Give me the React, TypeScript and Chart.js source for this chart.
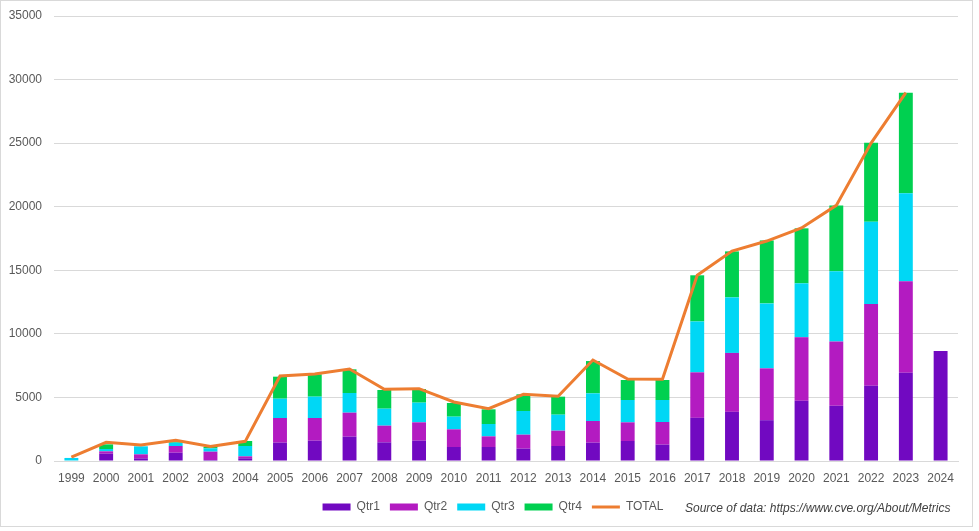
import React, { useEffect, useRef } from "react";
import { Chart, registerables } from "chart.js";

Chart.register(...registerables);

const years = [
  "1999", "2000", "2001", "2002", "2003", "2004", "2005", "2006", "2007",
  "2008", "2009", "2010", "2011", "2012", "2013", "2014", "2015", "2016",
  "2017", "2018", "2019", "2020", "2021", "2022", "2023", "2024",
];

const qtr1 = [0, 577, 210, 655, 80, 210, 1442, 1600, 1914, 1468, 1600, 1101, 1101, 970, 1180, 1442, 1573, 1285, 3395, 3868, 3210, 4737, 4342, 5921, 6947, 8658];
const qtr2 = [0, 183, 315, 525, 655, 157, 1940, 1783, 1888, 1311, 1442, 1390, 839, 1101, 1206, 1704, 1468, 1783, 3579, 4632, 4079, 5000, 5053, 6421, 7184, null];
const qtr3 = [240, 183, 630, 262, 262, 813, 1520, 1678, 1547, 1337, 1547, 996, 970, 1862, 1258, 2176, 1757, 1730, 4000, 4368, 5105, 4237, 5526, 6474, 6921, null];
const qtr4 = [0, 367, 0, 55, 105, 393, 1730, 1757, 1862, 1468, 1075, 1075, 1154, 1311, 1416, 2540, 1573, 1573, 3632, 3618, 4955, 4326, 5184, 6210, 7921, null];
const total = [300, 1470, 1260, 1625, 1150, 1547, 6685, 6845, 7237, 5638, 5690, 4641, 4115, 5244, 5087, 7944, 6450, 6425, 14605, 16517, 17300, 18330, 20105, 25000, 28974, null];

const seriesNames = ["Qtr1", "Qtr2", "Qtr3", "Qtr4", "TOTAL"];
const seriesColors = ["#7109C1", "#B31BC1", "#00D7F5", "#00D050", "#ED7D31"];
const sourceText = "Source of data: https://www.cve.org/About/Metrics";

const legendShift = {
  id: "legendShift",
  afterLayout(chart: any) {
    if (chart.legend) {
      chart.legend.left += 10;
      chart.legend.right += 10;
    }
  },
};

export default function App() {
  const ref = useRef<HTMLCanvasElement>(null);

  useEffect(() => {
    Chart.defaults.font.family = "'Liberation Sans', Arial, sans-serif";
    const barCommon = { stack: "q", barPercentage: 0.4, categoryPercentage: 1, borderWidth: 0 };
    const quarters = [qtr1, qtr2, qtr3, qtr4];
    const chart = new Chart(ref.current as HTMLCanvasElement, {
      type: "bar",
      data: {
        labels: years,
        datasets: [
          ...quarters.map((d, i) => ({
            ...barCommon,
            label: seriesNames[i],
            data: d,
            backgroundColor: seriesColors[i],
          })),
          {
            type: "line",
            label: seriesNames[4],
            data: total,
            borderColor: seriesColors[4],
            backgroundColor: seriesColors[4],
            borderWidth: 3,
            pointRadius: 0,
            tension: 0,
            stack: "t",
            order: -1,
          } as any,
        ],
      },
      plugins: [legendShift],
      options: {
        responsive: false,
        animation: false,
        layout: { padding: { left: 7, right: 14, top: 15, bottom: 3 } },
        plugins: {
          tooltip: { enabled: false },
          legend: {
            position: "bottom",
            labels: {
              usePointStyle: true,
              pointStyleWidth: 28,
              boxHeight: 7,
              padding: 10,
              color: "#595959",
              font: { size: 12 },
              generateLabels: (c: any) =>
                c.data.datasets.map((ds: any, i: number) => ({
                  text: ds.label,
                  fillStyle: ds.backgroundColor,
                  strokeStyle: i === 4 ? ds.borderColor : ds.backgroundColor,
                  lineWidth: i === 4 ? 3 : 0,
                  pointStyle: i === 4 ? "line" : "rect",
                  hidden: false,
                  datasetIndex: i,
                  fontColor: "#595959",
                })),
            },
          },
        },
        scales: {
          x: {
            stacked: true,
            grid: { display: false, drawTicks: false },
            border: { display: true, color: "#d9d9d9", width: 1 },
            ticks: { color: "#595959", font: { size: 12 }, padding: 10, maxRotation: 0, autoSkip: false },
            afterFit: (s: any) => {
              s.height = 30;
            },
          },
          y: {
            stacked: true,
            min: 0,
            max: 35000,
            grid: { color: "#d9d9d9", drawTicks: false },
            border: { display: false },
            ticks: {
              stepSize: 5000,
              color: "#595959",
              font: { size: 12 },
              padding: 12,
              callback: (v: any) => String(v),
            },
            afterFit: (s: any) => {
              s.width = 46;
              s.paddingTop = 0;
              s.paddingBottom = 0;
            },
          },
        },
      },
    });
    return () => chart.destroy();
  }, []);

  return (
    <div
      style={{
        position: "absolute",
        left: 0,
        top: 0,
        width: 971,
        height: 525,
        border: "1px solid #d9d9d9",
        background: "#fff",
      }}
    >
      <canvas ref={ref} width={971} height={525} style={{ display: "block" }} />
      <span
        style={{
          position: "absolute",
          left: 684,
          top: 500,
          fontFamily: "'Liberation Sans', Arial, sans-serif",
          fontStyle: "italic",
          fontSize: 12,
          lineHeight: "15px",
          color: "#404040",
          whiteSpace: "nowrap",
        }}
      >
        {sourceText}
      </span>
    </div>
  );
}
